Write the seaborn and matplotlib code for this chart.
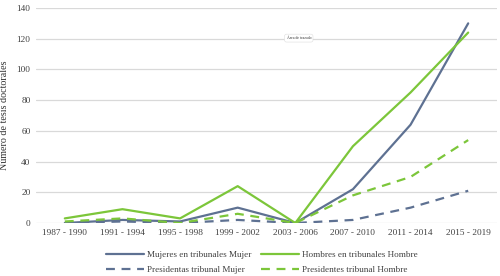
import matplotlib
matplotlib.use("Agg")
import matplotlib.pyplot as plt
import seaborn as sns
import pandas as pd

categories = ["1987 - 1990", "1991 - 1994", "1995 - 1998", "1999 - 2002",
              "2003 - 2006", "2007 - 2010", "2011 - 2014", "2015 - 2019"]
mujeres_tribunales = [0, 2, 1, 10, 0, 22, 64, 130]
hombres_tribunales = [3, 9, 3, 24, 0, 50, 85, 124]
presidentas_mujer = [0, 1, 0, 2, 0, 2, 10, 21]
presidentes_hombre = [1, 3, 0, 6, 0, 18, 30, 54]
series_names = ["Mujeres en tribunales Mujer", "Hombres en tribunales Hombre",
                "Presidentas tribunal Mujer", "Presidentes tribunal Hombre"]
yticks = [0, 20, 40, 60, 80, 100, 120, 140]

blue = "#5e7192"
green = "#7cc63a"

rows = []
for name, vals in zip(series_names, [mujeres_tribunales, hombres_tribunales,
                                     presidentas_mujer, presidentes_hombre]):
    for i, v in enumerate(vals):
        rows.append({"pos": i, "serie": name, "valor": v})
df = pd.DataFrame(rows)

sns.set_theme(style="white")
plt.rcParams["font.family"] = ["Liberation Serif", "DejaVu Serif"]

fig = plt.figure(figsize=(5.0, 2.76), dpi=100)
ax = fig.add_axes([0.072, 0.192, 0.922, 0.779])

styles = {
    series_names[0]: dict(color=blue, ls="-"),
    series_names[1]: dict(color=green, ls="-"),
    series_names[2]: dict(color=blue, ls=(0, (4, 3))),
    series_names[3]: dict(color=green, ls=(0, (4, 3))),
}
for name in series_names:
    sub = df[df["serie"] == name]
    st = styles[name]
    sns.lineplot(data=sub, x="pos", y="valor", ax=ax, color=st["color"],
                 linestyle=st["ls"], linewidth=1.6, label=name, zorder=3)

ax.set_xlim(-0.5, len(categories) - 0.5)
ax.set_ylim(0, 140)
ax.set_xticks(range(len(categories)))
ax.set_xticklabels(categories, fontsize=6.7, color="#404040")
ax.set_yticks(yticks)
ax.set_yticklabels([str(t) for t in yticks], fontsize=6.7, color="#404040")
ax.tick_params(axis="both", length=0, pad=4)
ax.set_xlabel("")
ax.set_ylabel("Número de tesis doctorales", fontsize=7.2, color="#303030")
ax.yaxis.set_label_coords(-0.058, 0.5)
ax.grid(axis="y", color="#d9d9d9", linewidth=0.9)
ax.set_axisbelow(True)
for s in ax.spines.values():
    s.set_visible(False)

ax.text(0.57, 0.86, "Área de trazado", transform=ax.transAxes, fontsize=2.8,
        ha="center", va="center", color="#333333",
        bbox=dict(boxstyle="round,pad=0.5", fc="white", ec="#dddddd", lw=0.4))

handles, labels = ax.get_legend_handles_labels()
order = [0, 2, 1, 3]
ax.legend([handles[i] for i in order], [labels[i] for i in order],
          loc="upper center", bbox_to_anchor=(0.49, -0.09), ncol=2,
          frameon=False, fontsize=6.6, handlelength=4.2, columnspacing=1.0,
          handletextpad=0.3, labelspacing=0.7, labelcolor="#404040")

fig.savefig("out.png", dpi=100)
